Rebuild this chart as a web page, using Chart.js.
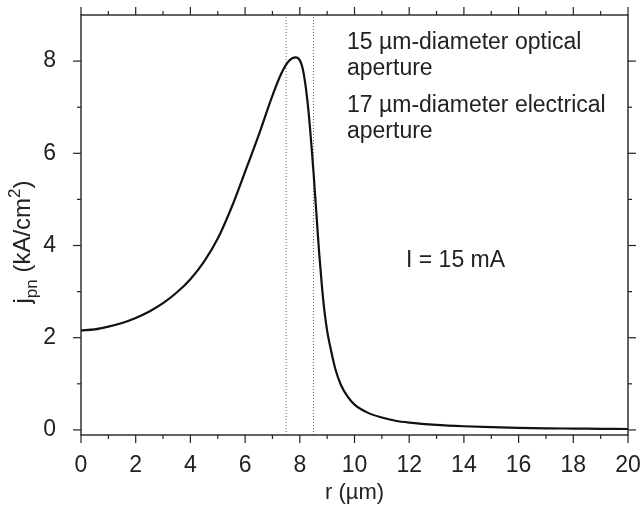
<!DOCTYPE html>
<html>
<head>
<meta charset="utf-8">
<script src="https://cdn.jsdelivr.net/npm/chart.js@4.4.1/dist/chart.umd.min.js"></script>
<style>
  html, body { margin: 0; padding: 0; background: #fff; }
  #wrap { width: 642px; height: 506px; }
</style>
</head>
<body>
<div id="wrap"><canvas id="jpnChart" width="642" height="506"></canvas></div>
<script>
// radius r (um) and current density j_pn (kA/cm^2)
const rValues = [0, 0.5, 1, 1.5, 2, 2.5, 3, 3.5, 4, 4.5, 5, 5.5, 6, 6.5, 7, 7.3, 7.6, 7.85, 8.1, 8.3, 8.5, 8.7, 8.8, 8.9, 9.0, 9.1, 9.3, 9.5, 9.75, 10, 10.5, 11, 11.5, 12, 13, 14, 15, 16, 17, 18, 19, 20];
const jValues = [2.16, 2.18, 2.24, 2.32, 2.43, 2.57, 2.75, 2.98, 3.27, 3.65, 4.15, 4.82, 5.60, 6.40, 7.25, 7.70, 8.00, 8.08, 7.85, 7.02, 5.60, 3.90, 3.18, 2.58, 2.15, 1.84, 1.32, 0.98, 0.72, 0.55, 0.37, 0.27, 0.20, 0.16, 0.11, 0.08, 0.06, 0.045, 0.035, 0.03, 0.025, 0.02];

// aperture edges (optical 15 um -> r=7.5, electrical 17 um -> r=8.5)
const apertureEdges = [7.5, 8.5];

const xTicks = [0, 2, 4, 6, 8, 10, 12, 14, 16, 18, 20];
const xMinorTicks = [1, 3, 5, 7, 9, 11, 13, 15, 17, 19];
const yTicks = [0, 2, 4, 6, 8];
const yMinorTicks = [1, 3, 5, 7];
const xRange = [0, 20];
const yRange = [-0.11, 9];

const notes = [
  { text: '15 \u00b5m-diameter optical', x: 347, y: 49 },
  { text: 'aperture', x: 347, y: 75 },
  { text: '17 \u00b5m-diameter electrical', x: 347, y: 112 },
  { text: 'aperture', x: 347, y: 138 },
  { text: 'I = 15 mA', x: 406, y: 267 }
];

const ink = '#222';
const fontFamily = '"Liberation Sans", Arial, Helvetica, sans-serif';

const curve = rValues.map(function(r, i) { return { x: r, y: jValues[i] }; });
const edgeSets = apertureEdges.map(function(r) {
  return {
    data: [{ x: r, y: yRange[0] }, { x: r, y: yRange[1] }],
    borderColor: '#666',
    borderWidth: 1,
    borderDash: [1, 2],
    pointRadius: 0,
    fill: false
  };
});

const framePlugin = {
  id: 'frame',
  afterDraw: function(chart) {
    const ctx = chart.ctx, a = chart.chartArea;
    const xs = chart.scales.x, ys = chart.scales.y;
    ctx.save();
    ctx.strokeStyle = ink;
    ctx.lineWidth = 1.4;
    ctx.strokeRect(a.left, a.top, a.right - a.left, a.bottom - a.top);

    function seg(x1, y1, x2, y2) {
      ctx.beginPath(); ctx.moveTo(x1, y1); ctx.lineTo(x2, y2); ctx.stroke();
    }
    ctx.lineWidth = 1.2;
    xTicks.forEach(function(v) {
      const p = xs.getPixelForValue(v);
      seg(p, a.bottom, p, a.bottom + 8);
      seg(p, a.top, p, a.top - 8);
    });
    xMinorTicks.forEach(function(v) {
      const p = xs.getPixelForValue(v);
      seg(p, a.bottom, p, a.bottom + 4);
      seg(p, a.top, p, a.top - 4);
    });
    yTicks.forEach(function(v) {
      const p = ys.getPixelForValue(v);
      seg(a.left, p, a.left - 8, p);
      seg(a.right, p, a.right + 8, p);
    });
    yMinorTicks.forEach(function(v) {
      const p = ys.getPixelForValue(v);
      seg(a.left, p, a.left - 4, p);
      seg(a.right, p, a.right + 4, p);
    });

    // notes inside the plot
    ctx.fillStyle = ink;
    ctx.font = '23px ' + fontFamily;
    ctx.textBaseline = 'alphabetic';
    ctx.textAlign = 'left';
    notes.forEach(function(n) { ctx.fillText(n.text, n.x, n.y); });

    // y title: j_pn (kA/cm^2), rotated
    const big = '24px ' + fontFamily, small = '17px ' + fontFamily;
    const parts = [
      { t: 'j', f: big, dy: 0 },
      { t: 'pn', f: small, dy: 7 },
      { t: ' (kA/cm', f: big, dy: 0 },
      { t: '2', f: small, dy: -10 },
      { t: ')', f: big, dy: 0 }
    ];
    let total = 0;
    parts.forEach(function(p) { ctx.font = p.f; p.w = ctx.measureText(p.t).width; total += p.w; });
    ctx.translate(30, 242);
    ctx.rotate(-Math.PI / 2);
    let cx = -total / 2;
    parts.forEach(function(p) {
      ctx.font = p.f;
      ctx.fillText(p.t, cx, p.dy);
      cx += p.w;
    });
    ctx.restore();
  }
};

new Chart(document.getElementById('jpnChart'), {
  type: 'line',
  data: {
    datasets: [{
      data: curve,
      borderColor: '#111',
      borderWidth: 2.2,
      pointRadius: 0,
      cubicInterpolationMode: 'monotone',
      fill: false
    }].concat(edgeSets)
  },
  options: {
    responsive: false,
    animation: false,
    events: [],
    layout: { padding: { top: 15, right: 14, left: 0, bottom: 0 } },
    plugins: { legend: { display: false }, tooltip: { enabled: false } },
    scales: {
      x: {
        type: 'linear',
        min: xRange[0],
        max: xRange[1],
        afterBuildTicks: function(s) { s.ticks = xTicks.map(function(v) { return { value: v }; }); },
        afterFit: function(s) { s.height = 71; s.paddingLeft = 0; s.paddingRight = 0; },
        grid: { display: false },
        border: { display: false },
        ticks: { color: ink, font: { family: fontFamily, size: 23 }, padding: 9, maxRotation: 0 },
        title: { display: true, text: 'r (\u00b5m)', color: ink, font: { family: fontFamily, size: 22 }, padding: { top: 0, bottom: 0 } }
      },
      y: {
        type: 'linear',
        min: yRange[0],
        max: yRange[1],
        afterBuildTicks: function(s) { s.ticks = yTicks.map(function(v) { return { value: v }; }); },
        afterFit: function(s) { s.width = 81; s.paddingTop = 0; s.paddingBottom = 0; },
        grid: { display: false },
        border: { display: false },
        ticks: { color: ink, font: { family: fontFamily, size: 23 }, padding: 17 }
      }
    }
  },
  plugins: [framePlugin]
});
</script>
</body>
</html>
